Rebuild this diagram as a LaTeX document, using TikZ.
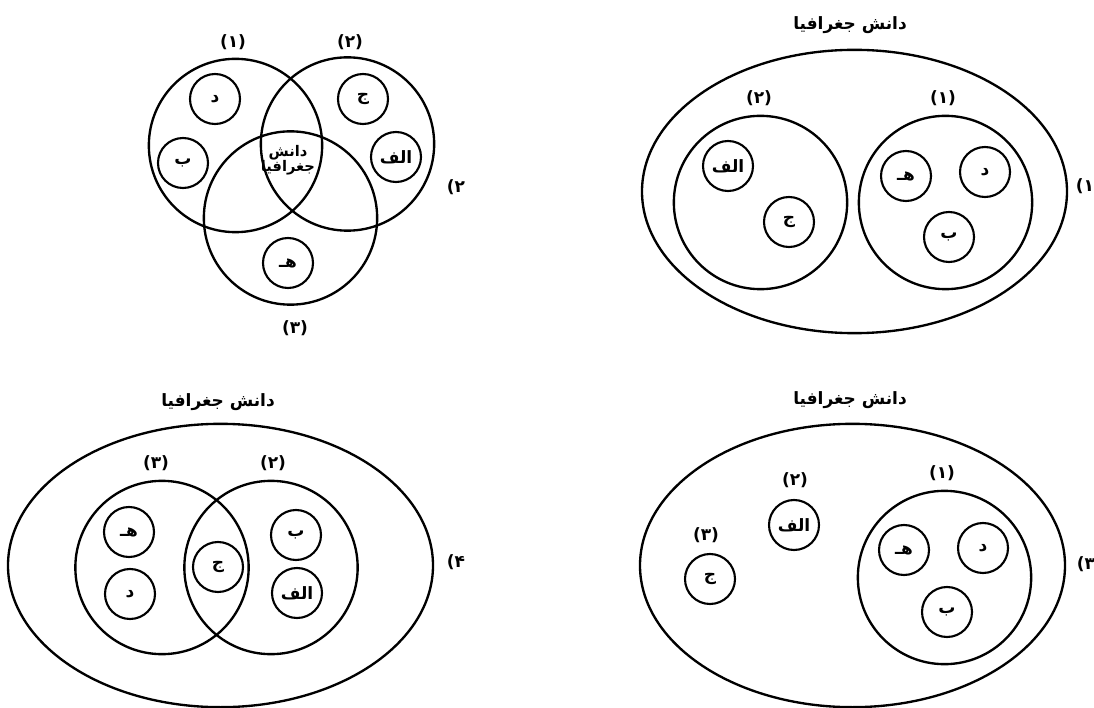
\documentclass[tikz,border=0pt]{standalone}
\usepackage{fontspec}
\newfontfamily\arfont[Script=Arabic]{DejaVu Sans}
\TeXXeTstate=1
\usetikzlibrary{shapes.geometric,positioning}

\begin{document}
\begin{tikzpicture}[
    x=0.3mm, y=-0.3mm,
    univ/.style={ellipse, draw, line width=2pt, minimum width=127.5mm,
                 minimum height=85mm, inner sep=0pt},
    set/.style={circle, draw, line width=2pt, minimum size=52mm, inner sep=0pt},
    elem/.style={circle, draw, line width=1.8pt, minimum size=15mm, inner sep=0pt,
                 font=\arfont\bfseries\fontsize{14.5}{16}\selectfont},
    lbl/.style={font=\arfont\bfseries\fontsize{14.5}{16}\selectfont, inner sep=1pt},
    ttl/.style={font=\arfont\bfseries\fontsize{14.5}{16}\selectfont}
]
    \useasboundingbox (0,0) rectangle (1094,708);

    % option 1 (top right)
    \node[ttl]  (t1)  at (850,25)      {\beginR دانش جغرافیا\endR};
    \node[univ] (u1)  at (854.5,191.5) {};
    \node[set]  (s1a) at (945.5,202.5) {};
    \node[set]  (s1b) at (760.5,202.5) {};
    \node[lbl]  (l1a) at (943,98)      {(۱)};
    \node[lbl]  (l1b) at (759,98)      {(۲)};
    \node[elem] (e1d) at (985,172)     {د};
    \node[elem] (e1h) at (906,176)     {هـ};
    \node[elem] (e1b) at (949,237)     {ب};
    \node[elem] (e1a) at (728,166)     {الف};
    \node[elem] (e1j) at (789,222)     {ج};
    \node[lbl]  (o1)  at (1085,186)    {۱)};

    % option 2 (top left)
    \node[set]  (s2a) at (235.5,145.5) {};
    \node[set]  (s2b) at (347.5,144)   {};
    \node[set]  (s2c) at (290.5,218)   {};
    \node[lbl]  (l2a) at (233,42)      {(۱)};
    \node[lbl]  (l2b) at (350,42)      {(۲)};
    \node[lbl]  (l2c) at (295,328)     {(۳)};
    \node[elem] (e2d) at (215,99)      {د};
    \node[elem] (e2b) at (183,163)     {ب};
    \node[elem] (e2j) at (363,99)      {ج};
    \node[elem] (e2a) at (396,157)     {الف};
    \node[elem] (e2h) at (288,263)     {هـ};
    \node[align=center, inner sep=0pt, font=\arfont\bfseries\fontsize{12.5}{13}\selectfont]
        (t2) at (288,160) {دانش\\جغرافیا};
    \node[lbl]  (o2)  at (456,187)     {۲)};

    % option 3 (bottom right)
    \node[ttl]  (t3)  at (850,400)     {\beginR دانش جغرافیا\endR};
    \node[univ] (u3)  at (852.5,565.5) {};
    \node[set]  (s3a) at (944.5,577.5) {};
    \node[lbl]  (l3a) at (942,473)     {(۱)};
    \node[lbl]  (l3b) at (795,480)     {(۲)};
    \node[lbl]  (l3c) at (706,535)     {(۳)};
    \node[elem] (e3a) at (794,525)     {الف};
    \node[elem] (e3j) at (710,579)     {ج};
    \node[elem] (e3h) at (904,550)     {هـ};
    \node[elem] (e3d) at (983,548)     {د};
    \node[elem] (e3b) at (947,612)     {ب};
    \node[lbl]  (o3)  at (1086,564)    {۳)};

    % option 4 (bottom left)
    \node[ttl]  (t4)  at (218,402)     {\beginR دانش جغرافیا\endR};
    \node[univ] (u4)  at (220.5,565.5) {};
    \node[set]  (s4a) at (162,567.5)   {};
    \node[set]  (s4b) at (271,567.5)   {};
    \node[lbl]  (l4a) at (156,463)     {(۳)};
    \node[lbl]  (l4b) at (273,463)     {(۲)};
    \node[elem] (e4h) at (129,532)     {هـ};
    \node[elem] (e4d) at (130,594)     {د};
    \node[elem] (e4j) at (218,567)     {ج};
    \node[elem] (e4b) at (296,535)     {ب};
    \node[elem] (e4a) at (297,593)     {الف};
    \node[lbl]  (o4)  at (456,562)     {۴)};
\end{tikzpicture}
\end{document}
